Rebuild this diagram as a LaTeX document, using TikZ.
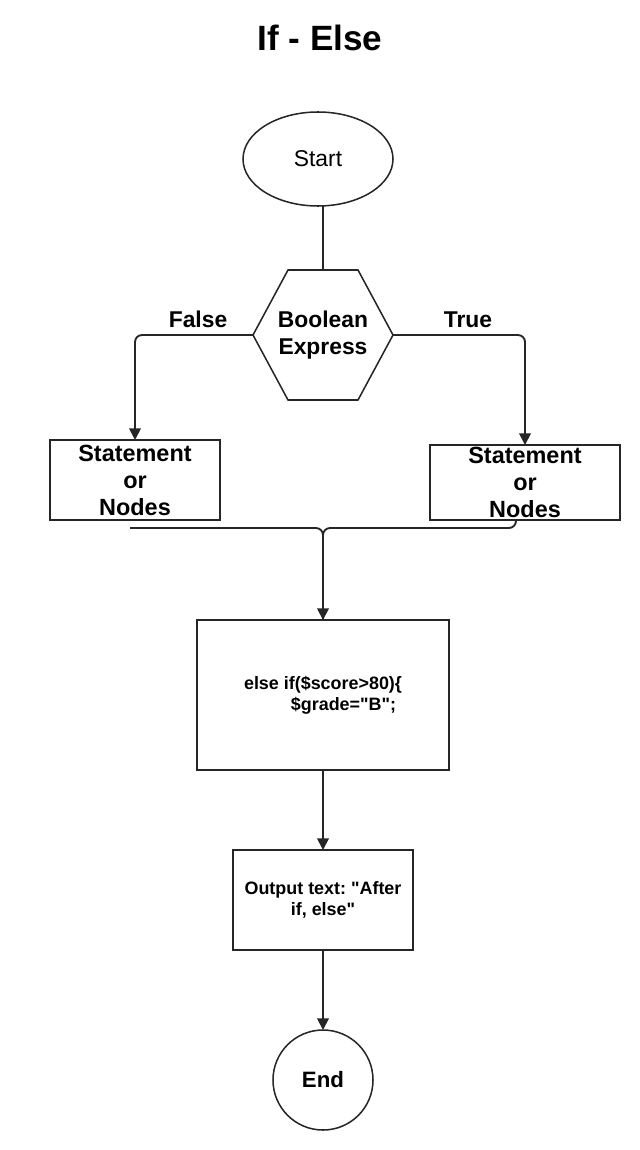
\documentclass[tikz,border=0pt]{standalone}
\usepackage{fontspec}
\setmainfont{Liberation Sans}[Ligatures=TeXOff]
\usetikzlibrary{arrows.meta, shapes.geometric, positioning}
\definecolor{trazo}{RGB}{38, 38, 38}
\frenchspacing

\begin{document}
\begin{tikzpicture}[
          node distance=2.4cm,
          borde/.style={draw=trazo, line width=1.3pt},
          box/.style={borde, inner sep=0pt, outer sep=0pt, align=center,
                      font=\fontsize{15.3}{17.5}\selectfont\bfseries},
          stmt/.style={box, font=\fontsize{20}{23}\selectfont\bfseries},
          term/.style={borde, inner sep=0pt, outer sep=0pt},
          hexa/.style={inner sep=0pt, outer sep=0pt, minimum width=4.2cm, minimum height=3.9cm,
                       align=center, font=\fontsize{19.5}{23}\selectfont\bfseries},
          lbl/.style={inner sep=0pt, font=\fontsize{19.5}{23}\selectfont\bfseries},
          line/.style={draw=trazo, line width=1.6pt, rounded corners=6pt},
          flow/.style={line, -{Triangle[length=10pt, width=10pt]}}
        ]
        \useasboundingbox (0,0) rectangle (19.2,-34.5);
        \node[font=\fontsize{30}{35}\selectfont\bfseries] (title) at (9.6,-1.14) {If - Else};
        \node[hexa] (cond) at (9.69,-10.05) {Boolean\\Express};
        \node[term, ellipse, minimum width=4.5cm, minimum height=2.82cm, above=1.92cm of cond, xshift=-0.15cm,
              font=\fontsize{19.5}{22}\selectfont] (start) {Start};
        \node[stmt, minimum width=5.1cm, minimum height=2.4cm] (stfalse) at (4.05,-14.4) {Statement\\or\\Nodes};
        \node[stmt, minimum width=5.7cm, minimum height=2.25cm] (sttrue) at (15.75,-14.475) {Statement\\or\\Nodes};
        \node[box, minimum width=7.56cm, minimum height=4.5cm, below=6.6cm of cond, align=left] (code)
              {else if(\$score>80)\{\\\hspace*{40pt}\$grade="B";};
        \node[box, minimum width=5.4cm, minimum height=3cm, below=of code] (out) {Output text: "After\\if, else"};
        \node[term, circle, minimum size=3cm, below=of out, font=\fontsize{19}{22}\selectfont\bfseries] (end) {End};
        \draw[borde] ([xshift=1.05cm]cond.north west) -- ([xshift=-1.05cm]cond.north east) -- (cond.east)
              -- ([xshift=-1.05cm]cond.south east) -- ([xshift=1.05cm]cond.south west) -- (cond.west) -- cycle;
        \coordinate (loose) at ([xshift=-0.15cm, yshift=-0.24cm]stfalse.south);
        \coordinate (join) at (code.north |- loose);
        \draw[line] (cond.north |- start.south) -- (cond.north);
        \draw[flow] (cond.west) -| node[lbl, above=0.18cm, pos=0.233] (nofalse) {False} (stfalse.north);
        \draw[flow] (cond.east) -| node[lbl, above=0.18cm, pos=0.284] (notrue) {True} (sttrue.north);
        \draw[line] (loose) -| (code.north);
        \draw[flow] ([xshift=-0.27cm]sttrue.south) |- (join) -- (code.north);
        \draw[flow] (code) -- (out);
        \draw[flow] (out) -- (end);
      \end{tikzpicture}
\end{document}
